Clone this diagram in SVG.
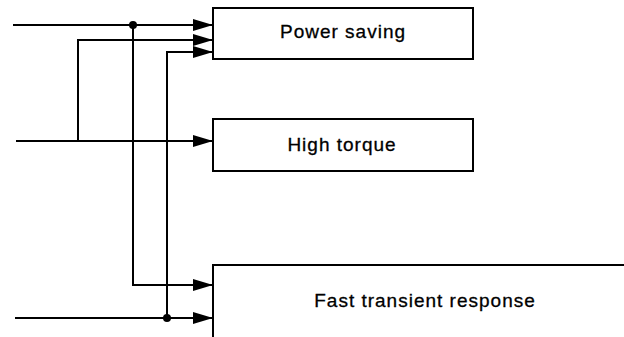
<svg xmlns="http://www.w3.org/2000/svg" width="624" height="337" viewBox="0 0 624 337">
<style>
.box{fill:#fff;stroke:#000;stroke-width:2}
.ln{fill:none;stroke:#000;stroke-width:2}
.lbl{font-family:"Liberation Sans",Arial,sans-serif;font-size:19px;letter-spacing:1px;text-anchor:middle;fill:#000;stroke:#000;stroke-width:0.3}
</style>
<defs>
<marker id="ah" markerUnits="userSpaceOnUse" markerWidth="20" markerHeight="12" refX="20" refY="6" orient="auto">
<path d="M0,0 L20,6 L0,12 z" fill="#000"/>
</marker>
</defs>
<rect width="624" height="337" fill="#fff"/>
<g id="connectors">
<path class="ln" d="M13,25 H213" marker-end="url(#ah)"/>
<path class="ln" d="M133,25 V285 H213" marker-end="url(#ah)"/>
<path class="ln" d="M78,141 V40 H213" marker-end="url(#ah)"/>
<path class="ln" d="M16,141 H213" marker-end="url(#ah)"/>
<path class="ln" d="M167,318 V52 H213" marker-end="url(#ah)"/>
<path class="ln" d="M15,318 H213" marker-end="url(#ah)"/>
<circle cx="133" cy="25" r="4" fill="#000"/>
<circle cx="167" cy="318" r="4" fill="#000"/>
</g>
<g id="power-saving">
<rect class="box" x="213" y="8" width="260" height="51"/>
<text class="lbl" x="343" y="38">Power saving</text>
</g>
<g id="high-torque">
<rect class="box" x="213" y="119" width="260" height="52"/>
<text class="lbl" x="342" y="151">High torque</text>
</g>
<g id="fast-transient-response">
<rect class="box" x="213" y="265" width="430" height="90"/>
<text class="lbl" x="425" y="307">Fast transient response</text>
</g>
</svg>
